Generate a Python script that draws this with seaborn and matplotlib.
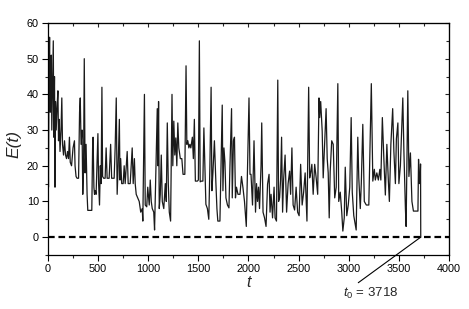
import numpy as np
import pandas as pd
import matplotlib
matplotlib.use("Agg")
import matplotlib.pyplot as plt
from matplotlib.ticker import MultipleLocator
import seaborn as sns

# ── Data (energy trace E(t)) ─────────────────────────────────────────────────
t_vals = [
    0, 5, 10, 16, 22, 28, 33, 38, 45, 53, 58, 65, 70, 75, 82, 90, 99, 105, 112, 120,
    130, 138, 145, 155, 165, 175, 185, 195, 205, 214, 222, 235, 250, 264, 270, 280, 290, 305, 315, 322,
    330, 340, 347, 355, 362, 370, 380, 390, 397, 437, 445, 450, 458, 464, 472, 480, 490, 498, 505, 514,
    522, 530, 538, 545, 555, 570, 580, 590, 610, 625, 635, 660, 670, 681, 690, 700, 712, 718, 725, 735,
    750, 760, 770, 790, 800, 820, 840, 850, 862, 870, 880, 895, 910, 925, 940, 946, 962, 970, 985, 995,
    1010, 1020, 1030, 1040, 1055, 1063, 1075, 1090, 1097, 1103, 1110, 1120, 1130, 1140, 1155, 1170, 1180, 1190, 1200, 1210,
    1223, 1237, 1245, 1255, 1265, 1275, 1285, 1295, 1305, 1320, 1335, 1347, 1365, 1377, 1385, 1395, 1405, 1415, 1425, 1440,
    1450, 1460, 1470, 1490, 1500, 1510, 1518, 1530, 1545, 1555, 1565, 1575, 1590, 1604, 1615, 1627, 1635, 1645, 1660, 1675,
    1685, 1694, 1715, 1738, 1745, 1755, 1765, 1775, 1790, 1805, 1815, 1831, 1838, 1850, 1860, 1870, 1880, 1895, 1915, 1930,
    1945, 1960, 1978, 2005, 2015, 2025, 2040, 2055, 2070, 2080, 2090, 2100, 2110, 2125, 2132, 2145, 2160, 2175, 2190, 2205,
    2215, 2225, 2240, 2255, 2265, 2279, 2292, 2300, 2310, 2320, 2330, 2340, 2350, 2365, 2380, 2395, 2410, 2420, 2433, 2445,
    2460, 2475, 2490, 2505, 2520, 2535, 2550, 2565, 2583, 2600, 2610, 2620, 2632, 2645, 2660, 2675, 2690, 2703, 2710, 2720,
    2735, 2745, 2760, 2774, 2785, 2795, 2805, 2815, 2830, 2845, 2860, 2875, 2891, 2900, 2915, 2930, 2941, 2955, 2965, 2980,
    2995, 3010, 3024, 3035, 3050, 3074, 3090, 3100, 3115, 3125, 3140, 3155, 3175, 3200, 3225, 3240, 3255, 3265, 3280, 3295,
    3310, 3320, 3335, 3350, 3365, 3380, 3395, 3405, 3420, 3438, 3450, 3465, 3475, 3490, 3500, 3515, 3539, 3550, 3565, 3572,
    3589, 3600, 3615, 3630, 3645, 3690, 3696, 3705, 3712, 3716, 3718,
]
E_vals = [
    30, 14, 45, 56, 35, 48, 51, 30, 42, 55, 28, 45, 14, 38, 30, 36, 41, 27, 33, 24,
    30, 39, 26, 23, 27, 23, 22, 24, 22, 28, 21, 20, 25, 27, 20, 17, 16.5, 16.5, 35, 39,
    26, 30, 12, 20, 50, 18, 26, 12, 7.5, 7.5, 25, 28, 14, 12, 13, 12, 22, 29, 15, 9,
    20, 15, 42, 17, 16.5, 16.5, 25, 16.5, 16.5, 26, 16.5, 16.5, 25, 39, 12, 20, 33, 16, 22, 15,
    15, 20, 15, 24, 15, 15, 25, 15, 22, 15, 12, 11, 10, 7, 8, 4.5, 40, 9, 8.5, 14,
    9, 16, 10, 8, 7, 2, 17, 36, 20, 38, 8, 12, 23, 10, 8, 15, 10, 32, 15, 7,
    4.5, 40, 20, 32.5, 23, 27.8, 20, 32, 25, 22, 22, 17.6, 17.6, 48, 26, 27, 25, 26, 25, 28,
    22, 33, 15.7, 15.7, 16, 55, 15.5, 15.7, 15.7, 30.6, 20, 9.2, 8, 5, 20, 42, 13, 18, 27, 15,
    8, 4.5, 4.5, 37, 13, 25, 21, 11, 9, 8.2, 20, 36, 11, 27, 28, 11, 14, 12, 12, 17,
    13.8, 10, 3, 39, 17.6, 17.6, 9, 27, 7, 15, 10, 14, 8, 20, 32, 7, 5.4, 3, 14.8, 17.6,
    7, 12, 5.4, 14, 5.4, 4.5, 44, 10, 11, 16, 28, 7, 16, 23, 7, 15, 18.5, 12, 25, 9,
    7.6, 14, 7, 6, 20.4, 9, 12.6, 18, 4.5, 42, 16.6, 18, 20.4, 12, 20.4, 16.6, 12, 39, 33.5, 38,
    29.7, 16.6, 27, 36, 22, 18, 5.4, 18.5, 27, 26, 11, 14, 43, 10, 12.6, 7, 1.7, 5.4, 19.6, 6,
    9, 14, 33.5, 12.6, 6, 2, 28, 16.6, 8, 15, 31.6, 10, 9, 9, 43, 15.7, 19, 16, 18, 16,
    19, 16, 33.5, 22, 11.8, 26, 15.7, 10, 26, 36, 24, 15, 27.5, 32, 15, 20, 39, 24, 8, 3,
    41, 17, 23.6, 10, 7.3, 7.3, 21.8, 15, 16, 20.5, 0,
]
t0 = 3718

x_ticks = np.arange(0, 4001, 500)
y_ticks = np.arange(0, 61, 10)

df = pd.DataFrame({"t": t_vals, "E": E_vals})

# ── Style ─────────────────────────────────────────────────────────────────────
sns.set_style("ticks")
plt.rcParams["font.family"] = ["Liberation Sans", "DejaVu Sans"]
plt.rcParams["mathtext.fontset"] = "custom"
plt.rcParams["mathtext.rm"] = "Liberation Sans"
plt.rcParams["mathtext.it"] = "Liberation Sans:italic"

fig = plt.figure(figsize=(4.69, 3.09), dpi=100)
ax = fig.add_axes([0.1023, 0.1748, 0.8551, 0.7508])

sns.lineplot(data=df, x="t", y="E", ax=ax, color="#1a1a1a", linewidth=0.9,
             estimator=None, sort=False)
ax.axhline(0, color="black", linewidth=1.6, linestyle=(0, (3.0, 1.7)))

ax.set_xlim(0, 4000)
ax.set_ylim(-5, 60)
ax.set_xticks(x_ticks)
ax.set_yticks(y_ticks)
ax.xaxis.set_minor_locator(MultipleLocator(250))
ax.yaxis.set_minor_locator(MultipleLocator(5))
ax.tick_params(which="major", direction="out", length=4, width=0.8, labelsize=7.8,
               colors="black", pad=2.5)
ax.tick_params(which="minor", direction="out", length=2.2, width=0.8)
for s in ax.spines.values():
    s.set_visible(True)
    s.set_linewidth(0.9)
    s.set_color("black")

# mirrored inward ticks on top and right
top = ax.secondary_xaxis("top")
top.set_xticks(x_ticks)
top.xaxis.set_minor_locator(MultipleLocator(250))
top.tick_params(which="both", direction="in", labeltop=False, width=0.8)
top.tick_params(which="major", length=3)
top.tick_params(which="minor", length=2)
right = ax.secondary_yaxis("right")
right.set_yticks(y_ticks)
right.yaxis.set_minor_locator(MultipleLocator(5))
right.tick_params(which="both", direction="in", labelright=False, width=0.8)
right.tick_params(which="major", length=3)
right.tick_params(which="minor", length=2)

ax.set_xlabel("t", fontsize=11.5, style="italic")
ax.set_ylabel("E(t)", fontsize=12.5, style="italic")
ax.xaxis.set_label_coords(0.5, -0.085)
ax.yaxis.set_label_coords(-0.067, 0.478)

ax.annotate(f"$t_0$ = {t0}", xy=(t0, 0), xytext=(2940, -15.8),
            fontsize=9.5, ha="left", va="center", annotation_clip=False,
            arrowprops=dict(arrowstyle="-", color="black", lw=0.8,
                            shrinkA=0, shrinkB=0, relpos=(0.2, 1.0)))

fig.savefig("out.png", dpi=100)
